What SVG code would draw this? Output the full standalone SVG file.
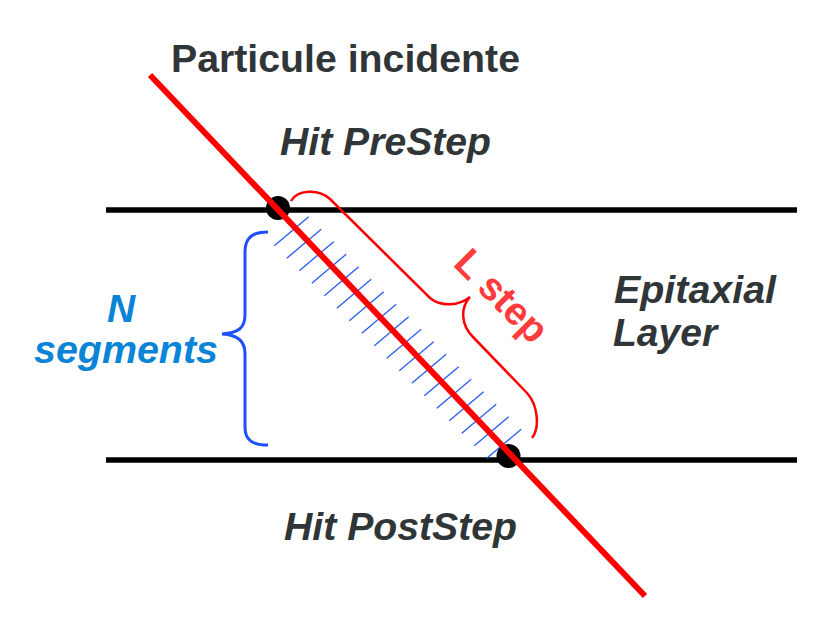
<svg xmlns="http://www.w3.org/2000/svg" width="840" height="623" viewBox="0 0 840 623">
<style>
.t{font-family:"Liberation Sans",Arial,sans-serif;font-weight:bold;font-size:39px;fill:#303538}
.i{font-style:italic}
.hatch line{stroke:#2a5cf5;stroke-width:1.3}
</style>
<rect width="840" height="623" fill="#fff"/>
<g id="layer-lines">
<line x1="106" y1="210" x2="797" y2="210" stroke="#000" stroke-width="5.5"/>
<line x1="106" y1="460" x2="797" y2="460" stroke="#000" stroke-width="5.5"/>
</g>
<g id="segments" class="hatch">
<line x1="274.3" y1="245.7" x2="308.7" y2="216.7"/>
<line x1="286.8" y1="258.2" x2="321.2" y2="229.2"/>
<line x1="299.3" y1="270.7" x2="333.7" y2="241.7"/>
<line x1="311.8" y1="283.2" x2="346.2" y2="254.2"/>
<line x1="324.3" y1="295.7" x2="358.7" y2="266.7"/>
<line x1="336.8" y1="308.2" x2="371.2" y2="279.2"/>
<line x1="349.3" y1="320.7" x2="383.7" y2="291.7"/>
<line x1="361.8" y1="333.2" x2="396.2" y2="304.2"/>
<line x1="374.3" y1="345.7" x2="408.7" y2="316.7"/>
<line x1="386.8" y1="358.2" x2="421.2" y2="329.2"/>
<line x1="399.3" y1="370.7" x2="433.7" y2="341.7"/>
<line x1="411.8" y1="383.2" x2="446.2" y2="354.2"/>
<line x1="424.3" y1="395.7" x2="458.7" y2="366.7"/>
<line x1="436.8" y1="408.2" x2="471.2" y2="379.2"/>
<line x1="449.3" y1="420.7" x2="483.7" y2="391.7"/>
<line x1="461.8" y1="433.2" x2="496.2" y2="404.2"/>
<line x1="474.3" y1="445.7" x2="508.7" y2="416.7"/>
<line x1="486.8" y1="458.2" x2="521.2" y2="429.2"/>
</g>
<g id="hit-prestep-dot"><circle cx="278" cy="208" r="12" fill="#000"/></g>
<g id="hit-poststep-dot"><circle cx="508.5" cy="456" r="12" fill="#000"/></g>
<g id="particle-track">
<line x1="150" y1="75" x2="645" y2="596" stroke="#ff0000" stroke-width="6"/>
</g>
<g id="braces" fill="none">
<path d="M268,232 C252,232 245,238 245,252 L245,315 C245,328 238,333 222,334 C238,335 245,341 245,354 L245,427 C245,440 252,445 268,445" stroke="#1f4fff" stroke-width="3"/>
<path d="M291,201 C297,190 318,188 330,199 L430,298 C441,307 459,306 470,297 C460,308 461,325 473,337 L527,393 C538,405 540,428 532,438" stroke="#ff0000" stroke-width="2.5"/>
</g>
<g id="labels">
<text class="t" x="171" y="72" textLength="349" lengthAdjust="spacingAndGlyphs">Particule incidente</text>
<text class="t i" x="280" y="155" textLength="211" lengthAdjust="spacingAndGlyphs">Hit PreStep</text>
<text class="t i" x="284" y="540" textLength="233" lengthAdjust="spacingAndGlyphs">Hit PostStep</text>
<text class="t i" x="614" y="303" textLength="162" lengthAdjust="spacingAndGlyphs">Epitaxial</text>
<text class="t i" x="613" y="346">Layer</text>
<text class="t i" x="107" y="322" style="fill:#0a84d6">N</text>
<text class="t i" x="34" y="363" textLength="184" lengthAdjust="spacingAndGlyphs" style="fill:#0a84d6">segments</text>
<text class="t" x="452" y="265" transform="rotate(45 452 265)" style="fill:#ff3b3b">L step</text>
</g>
</svg>
